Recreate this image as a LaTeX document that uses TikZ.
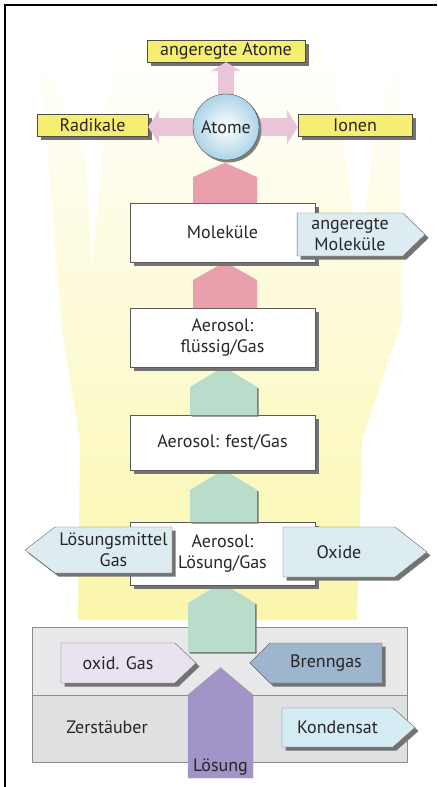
\documentclass[tikz,border=0pt]{standalone}
\usepackage{fontspec}
\setmainfont{PT Sans}
\usetikzlibrary{arrows.meta,positioning,calc,shapes.symbols,shadows}
\definecolor{flowpink}{RGB}{233,160,172}
\definecolor{atompink}{RGB}{232,198,216}
\definecolor{flowgreen}{RGB}{186,220,202}
\definecolor{labelyellow}{RGB}{246,238,112}
\definecolor{paleblue}{RGB}{220,236,241}
\definecolor{condblue}{RGB}{214,236,245}
\definecolor{burnergray}{RGB}{230,232,233}
\definecolor{nebgray}{RGB}{222,224,226}
\definecolor{oxgas}{RGB}{233,227,239}
\definecolor{fuelgas}{RGB}{158,182,205}
\definecolor{solution}{RGB}{162,148,198}
\definecolor{glowyellow}{RGB}{250,246,172}
\definecolor{atomblue}{RGB}{172,212,232}
\tikzset{
  boxshadow/.style={drop shadow={shadow xshift=3.5pt, shadow yshift=-3.5pt, fill=black!55, opacity=1}},
  stagebox/.style={draw=black!65, fill=white, minimum width=185pt, align=center, inner sep=2pt, boxshadow},
  productbox/.style={draw=black!70, fill=labelyellow, minimum height=22pt, inner sep=2pt, boxshadow},
  sidearrow/.style={shape=signal, draw=black!60, align=center, inner sep=2pt, boxshadow},
  flowup/.style={shape=signal, signal to=north, draw=none, inner sep=0pt},
  flowshadow/.style={drop shadow={shadow xshift=1.5pt, shadow yshift=-1.5pt, fill=black!55, opacity=1}},
  atomarrow/.style={draw=atompink, line width=18pt, -{Triangle[length=11pt, width=34pt]}},
  burnerbox/.style={draw=black!45, minimum width=375pt}
}
\begin{document}
\begin{tikzpicture}[x=1pt, y=-1pt, font=\fontsize{18}{21}\selectfont, text=black!85]
\useasboundingbox (0,0) rectangle (437,787);
% yellow glow behind the chain
\shade[top color=white, bottom color=glowyellow, draw=none]
  (78,620) -- (80,440) -- (62,330) -- (38,40) -- (86,160) -- (92,270) -- (112,40)
  -- (330,40) -- (360,270) -- (372,150) -- (398,40) -- (402,320) -- (362,440) -- (357,620) -- cycle;
% frame
\draw[line width=2.5pt] (5,787) -- (5,5) -- (437,5);

% burner and nebulizer
\node[burnerbox, fill=burnergray, minimum height=68pt] (burner) at (219.5,661) {};
\node[burnerbox, fill=nebgray, minimum height=67pt] (nebulizer) at (219.5,728.5) {};
\node (zerst) at (107,727) {Zerstäuber};
\node[flowup, flowshadow, fill=flowgreen, signal pointer angle=118, minimum width=67pt, minimum height=49pt] (up3) at (221.5,627.5) {};
\node[sidearrow, signal to=east, signal pointer angle=87, fill=oxgas, minimum width=135pt, minimum height=40pt] (oxgas) at (118,663) {oxid. Gas};
\node[sidearrow, signal to=west, signal pointer angle=90, fill=fuelgas, minimum width=132pt, minimum height=40pt] (fuel) at (326,663) {Brenngas};
\node[sidearrow, signal to=east, signal pointer angle=83, fill=condblue, minimum width=133pt, minimum height=39pt] (cond) at (337.5,727.5) {Kondensat};
\node[flowup, signal pointer angle=100, fill=solution, draw=black!40, minimum width=65pt, minimum height=83pt,
      label={[anchor=south, inner sep=3pt]south:Lösung}] (loesung) at (220.5,736.5) {};

% aerosol and molecule stages
\node[stagebox, minimum height=63pt] (lsgGas) at (222.5,553.5) {Aerosol:\\Lösung/Gas};
\node[sidearrow, signal to=west, signal pointer angle=75, fill=paleblue, minimum width=147pt, minimum height=46pt] (solvent) at (113.5,550) {Lösungsmittel\\Gas};
\node[sidearrow, signal to=east, signal pointer angle=76, fill=paleblue, minimum width=144pt, minimum height=50pt] (oxide) at (339,552) {Oxide};
\node[flowup, flowshadow, fill=flowgreen, signal pointer angle=118, minimum width=67pt, minimum height=32pt] (up2) at (223.5,506) {};
\node[stagebox, minimum height=55pt] (festGas) at (222.5,442.5) {Aerosol: fest/Gas};
\node[flowup, flowshadow, fill=flowgreen, signal pointer angle=118, minimum width=67pt, minimum height=28pt] (up1) at (223.5,401) {};
\node[stagebox, minimum height=59pt] (flGas) at (222.5,337.5) {Aerosol:\\flüssig/Gas};
\node[flowup, fill=flowpink, signal pointer angle=121, minimum width=64pt, minimum height=28pt] (upMol) at (225,294) {};
\node[stagebox, minimum height=59pt] (molekuele) at (222.5,232.5) {Moleküle};
\node[sidearrow, signal to=east, signal pointer angle=88, fill=paleblue, minimum width=128pt, minimum height=43pt] (angMol) at (350,234.5) {angeregte\\Moleküle};
\node[flowup, fill=flowpink, signal pointer angle=132, minimum width=64pt, minimum height=26pt] (upAtom) at (225,190) {};

% atoms and their products
\node[productbox, minimum width=158pt] (angAtome) at (226,51) {angeregte Atome};
\node[productbox, minimum width=111pt] (radikale) at (92.5,125) {Radikale};
\node[productbox, minimum width=114pt] (ionen) at (355,125.5) {Ionen};
\coordinate (atomC) at (226,127);
\draw[atomarrow, line width=16pt, -{Triangle[length=9pt, width=30pt]}] (atomC) -- (atomC |- angAtome.south);
\draw[atomarrow] (atomC) -- (atomC -| radikale.east);
\draw[atomarrow] (atomC) -- (atomC -| ionen.west);
\node[circle, draw=black!70, minimum size=66pt, inner sep=0pt, inner color=white, outer color=atomblue,
      drop shadow={shadow xshift=2.5pt, shadow yshift=-2.5pt, fill=black!50, opacity=1}] (atom) at (atomC) {Atome};
\end{tikzpicture}
\end{document}
